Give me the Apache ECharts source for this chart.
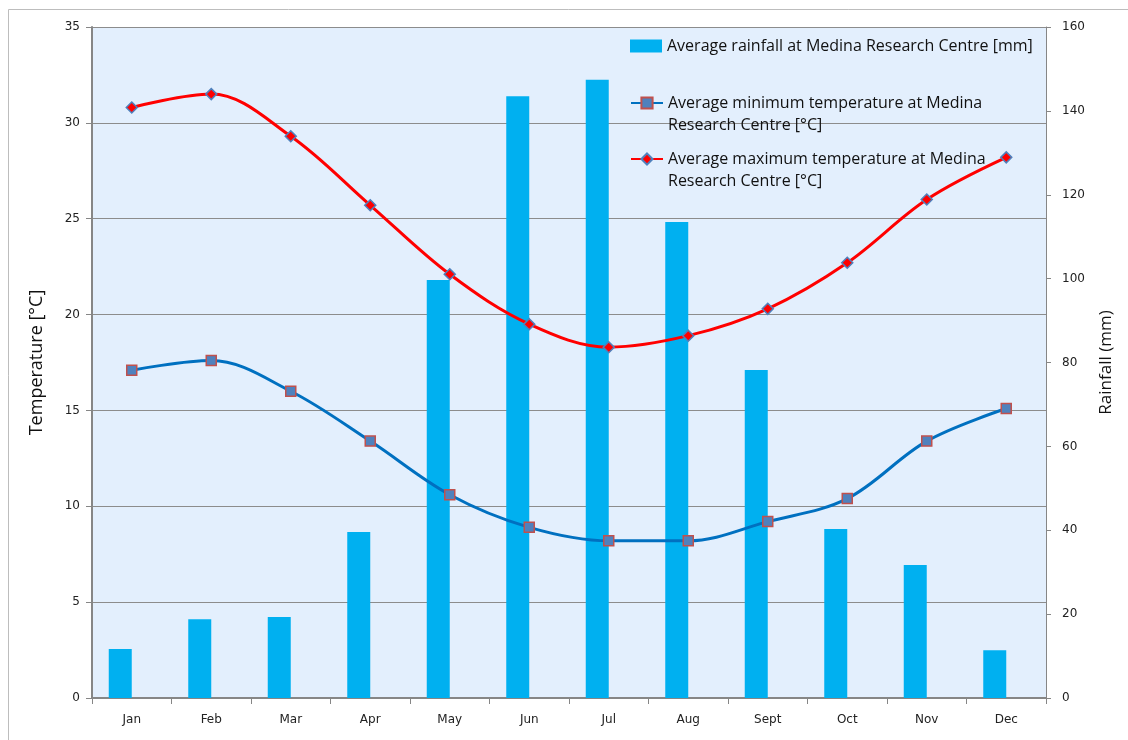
<!DOCTYPE html>
<html>
<head>
<meta charset="utf-8">
<script src="https://cdn.jsdelivr.net/npm/echarts@6/dist/echarts.min.js"></script>
<style>
  html, body { margin: 0; padding: 0; background: #fff; }
  #chart { width: 1128px; height: 740px; }
</style>
</head>
<body>
<div id="chart"></div>
<script>
// months on the x axis
const months = ["Jan", "Feb", "Mar", "Apr", "May", "Jun", "Jul", "Aug", "Sept", "Oct", "Nov", "Dec"];
// rainfall in mm (right axis)
const rainfall = [11.7, 18.8, 19.3, 39.6, 99.7, 143.5, 147.4, 113.5, 78.2, 40.3, 31.7, 11.4];
// temperatures in °C (left axis)
const minTemp = [17.1, 17.6, 16.0, 13.4, 10.6, 8.9, 8.2, 8.2, 9.2, 10.4, 13.4, 15.1];
const maxTemp = [30.8, 31.5, 29.3, 25.7, 22.1, 19.5, 18.3, 18.9, 20.3, 22.7, 26.0, 28.2];

const rainName = "Average rainfall at Medina Research Centre [mm]";
const minName = "Average minimum temperature at Medina\nResearch Centre [°C]";
const maxName = "Average maximum temperature at Medina\nResearch Centre [°C]";

const tickFont = { fontFamily: "DejaVu Sans", fontSize: 12, color: "#222" };
const legendText = { fontFamily: "Open Sans", fontSize: 16, color: "#111", lineHeight: 22 };

let myChart = echarts.init(document.getElementById("chart"));
let option = {
  animation: false,
  grid: { left: 92, right: 82, top: 27, bottom: 42, show: true, backgroundColor: "#e3effd", borderWidth: 0 },
  graphic: [
    {
      type: "rect",
      shape: { x: 8.5, y: 9.5, width: 1140, height: 760 },
      style: { fill: "none", stroke: "#bdbdbd", lineWidth: 1 },
      z: -1
    }
  ],
  legend: [
    {
      data: [{ name: rainName, icon: "rect" }], left: 625, top: 30, orient: "vertical",
      itemWidth: 32, itemHeight: 13, itemGap: 4,
      textStyle: legendText
    },
    {
      // leading blank line puts the first text line level with the icon
      data: [minName], left: 625, top: 65, orient: "vertical",
      itemWidth: 32, itemHeight: 14,
      formatter: name => "\n" + name,
      textStyle: legendText
    },
    {
      data: [maxName], left: 625, top: 121, orient: "vertical",
      itemWidth: 32, itemHeight: 14,
      formatter: name => "\n" + name,
      textStyle: legendText
    }
  ],
  xAxis: {
    type: "category",
    data: months,
    axisLine: { lineStyle: { color: "#868686", width: 2 } },
    axisTick: { show: true, length: 6, lineStyle: { color: "#868686" } },
    axisLabel: Object.assign({ margin: 16 }, tickFont),
    splitLine: { show: false }
  },
  yAxis: [
    {
      type: "value",
      min: 0, max: 35, interval: 5,
      name: "Temperature [°C]",
      nameLocation: "middle",
      nameGap: 46,
      nameTextStyle: { fontFamily: "Open Sans", fontSize: 18, color: "#111" },
      axisLine: { show: true, lineStyle: { color: "#868686", width: 2 } },
      axisTick: { show: true, length: 6, lineStyle: { color: "#868686" } },
      axisLabel: Object.assign({ margin: 12 }, tickFont),
      splitLine: { show: true, lineStyle: { color: "#8c8c8c", width: 1 } }
    },
    {
      type: "value",
      min: 0, max: 160, interval: 20,
      name: "Rainfall (mm)",
      nameLocation: "middle",
      nameGap: 52,
      nameTextStyle: { fontFamily: "Open Sans", fontSize: 17, color: "#111" },
      axisLine: { show: true, lineStyle: { color: "#868686", width: 1 } },
      axisTick: { show: true, length: 5, lineStyle: { color: "#868686" } },
      axisLabel: Object.assign({ margin: 16 }, tickFont),
      splitLine: { show: false }
    }
  ],
  series: [
    {
      name: rainName,
      type: "bar",
      yAxisIndex: 1,
      data: rainfall,
      barWidth: 23,
      barGap: "0%",
      itemStyle: { color: "#00b0f0" }
    },
    {
      // empty companion series keeps the bars left of the category centre
      name: "spacer",
      type: "bar",
      yAxisIndex: 1,
      data: months.map(() => "-"),
      barWidth: 23,
      silent: true
    },
    {
      name: minName,
      type: "line",
      yAxisIndex: 0,
      data: minTemp,
      smooth: 0.35,
      symbol: "rect",
      symbolSize: 10,
      lineStyle: { color: "#0070c0", width: 3 },
      itemStyle: { color: "#4f81bd", borderColor: "#c0504d", borderWidth: 1.5 },
      z: 4
    },
    {
      name: maxName,
      type: "line",
      yAxisIndex: 0,
      data: maxTemp,
      smooth: 0.35,
      symbol: "diamond",
      symbolSize: 11,
      lineStyle: { color: "#ff0000", width: 3 },
      itemStyle: { color: "#ff0000", borderColor: "#4f81bd", borderWidth: 1.5 },
      z: 5
    }
  ]
};
myChart.setOption(option);
</script>
</body>
</html>
